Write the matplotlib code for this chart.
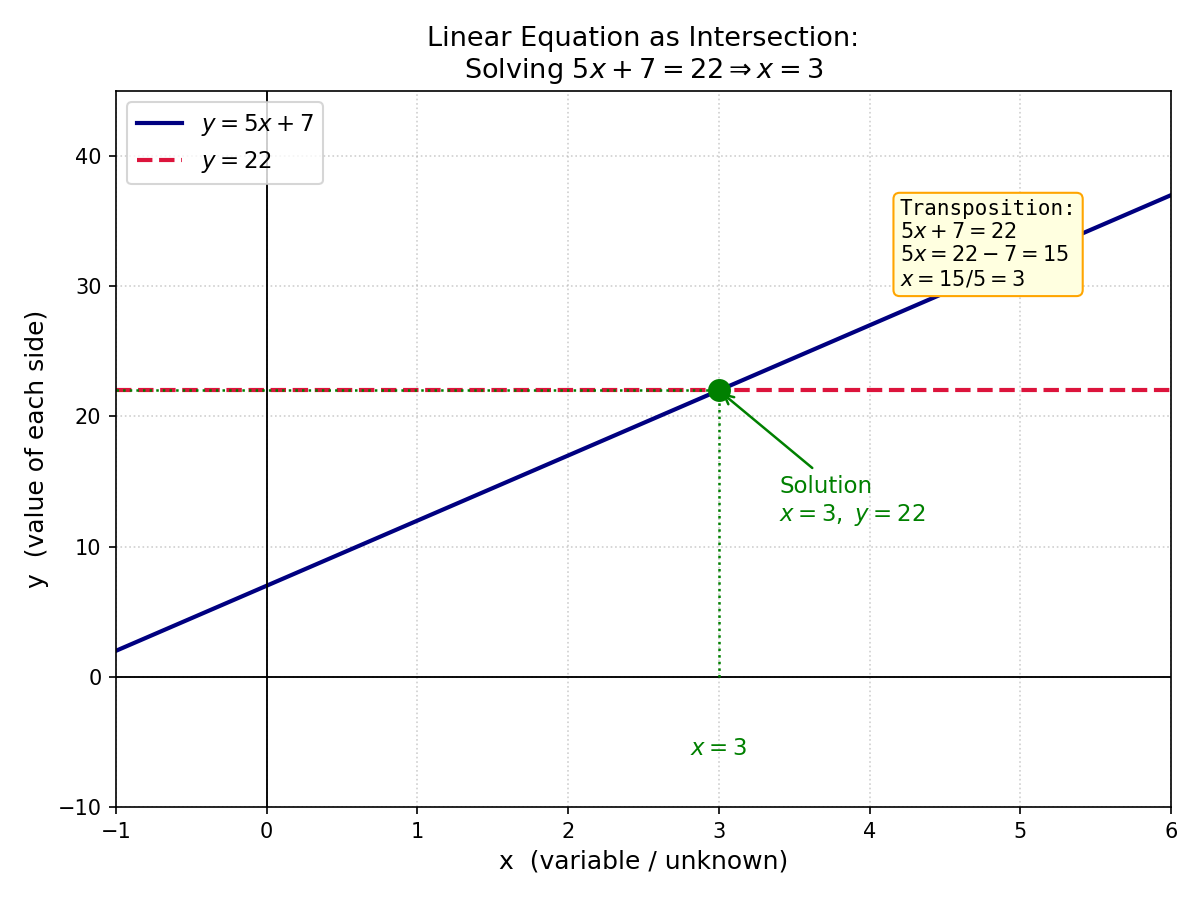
import numpy as np
import matplotlib
matplotlib.use("Agg")
import matplotlib.pyplot as plt

# Data
x_range = [-1, 6]
slope = 5
intercept = 7
rhs = 22
sol_x = 3
sol_y = 22
xlim = (-1, 6)
ylim = (-10, 45)

x = np.linspace(x_range[0], x_range[1], 200)
y = slope * x + intercept

fig, ax = plt.subplots(figsize=(8, 6), dpi=150)

ax.plot(x, y, color="navy", lw=2, label=r"$y = 5x + 7$")
ax.axhline(rhs, color="crimson", lw=2, ls="--", label=r"$y = 22$")
ax.axhline(0, color="black", lw=0.9)
ax.axvline(0, color="black", lw=0.9)

ax.plot([sol_x, sol_x], [0, sol_y], color="green", ls=":", lw=1.2)
ax.plot([xlim[0], sol_x], [sol_y, sol_y], color="green", ls=":", lw=1.2)
ax.plot([sol_x], [sol_y], "o", color="green", ms=10, zorder=5)

ax.annotate("Solution\n$x = 3,\\ y = 22$", xy=(sol_x, sol_y), xytext=(3.4, 12),
            color="green", fontsize=11,
            arrowprops=dict(arrowstyle="->", color="green", lw=1.2))

ax.text(sol_x, -5.5, r"$x = 3$", color="green", fontsize=11, ha="center", va="center")

ax.text(4.2, 36.7, "Transposition:\n$5x + 7 = 22$\n$5x = 22 - 7 = 15$\n$x = 15/5 = 3$",
        family="monospace", fontsize=10, va="top", ha="left",
        bbox=dict(boxstyle="round", facecolor="lightyellow", edgecolor="orange"))

ax.set_xlim(*xlim)
ax.set_ylim(*ylim)
ax.grid(True, ls=":", alpha=0.6)
ax.set_xlabel("x  (variable / unknown)", fontsize=12)
ax.set_ylabel("y  (value of each side)", fontsize=12)
ax.set_title("Linear Equation as Intersection:\nSolving $5x + 7 = 22 \\Rightarrow x = 3$", fontsize=13)
ax.legend(loc="upper left", fontsize=11)

fig.subplots_adjust(left=116/1200, right=1171/1200, top=1-91/900, bottom=1-807/900)
fig.savefig("out.png", dpi=150)
